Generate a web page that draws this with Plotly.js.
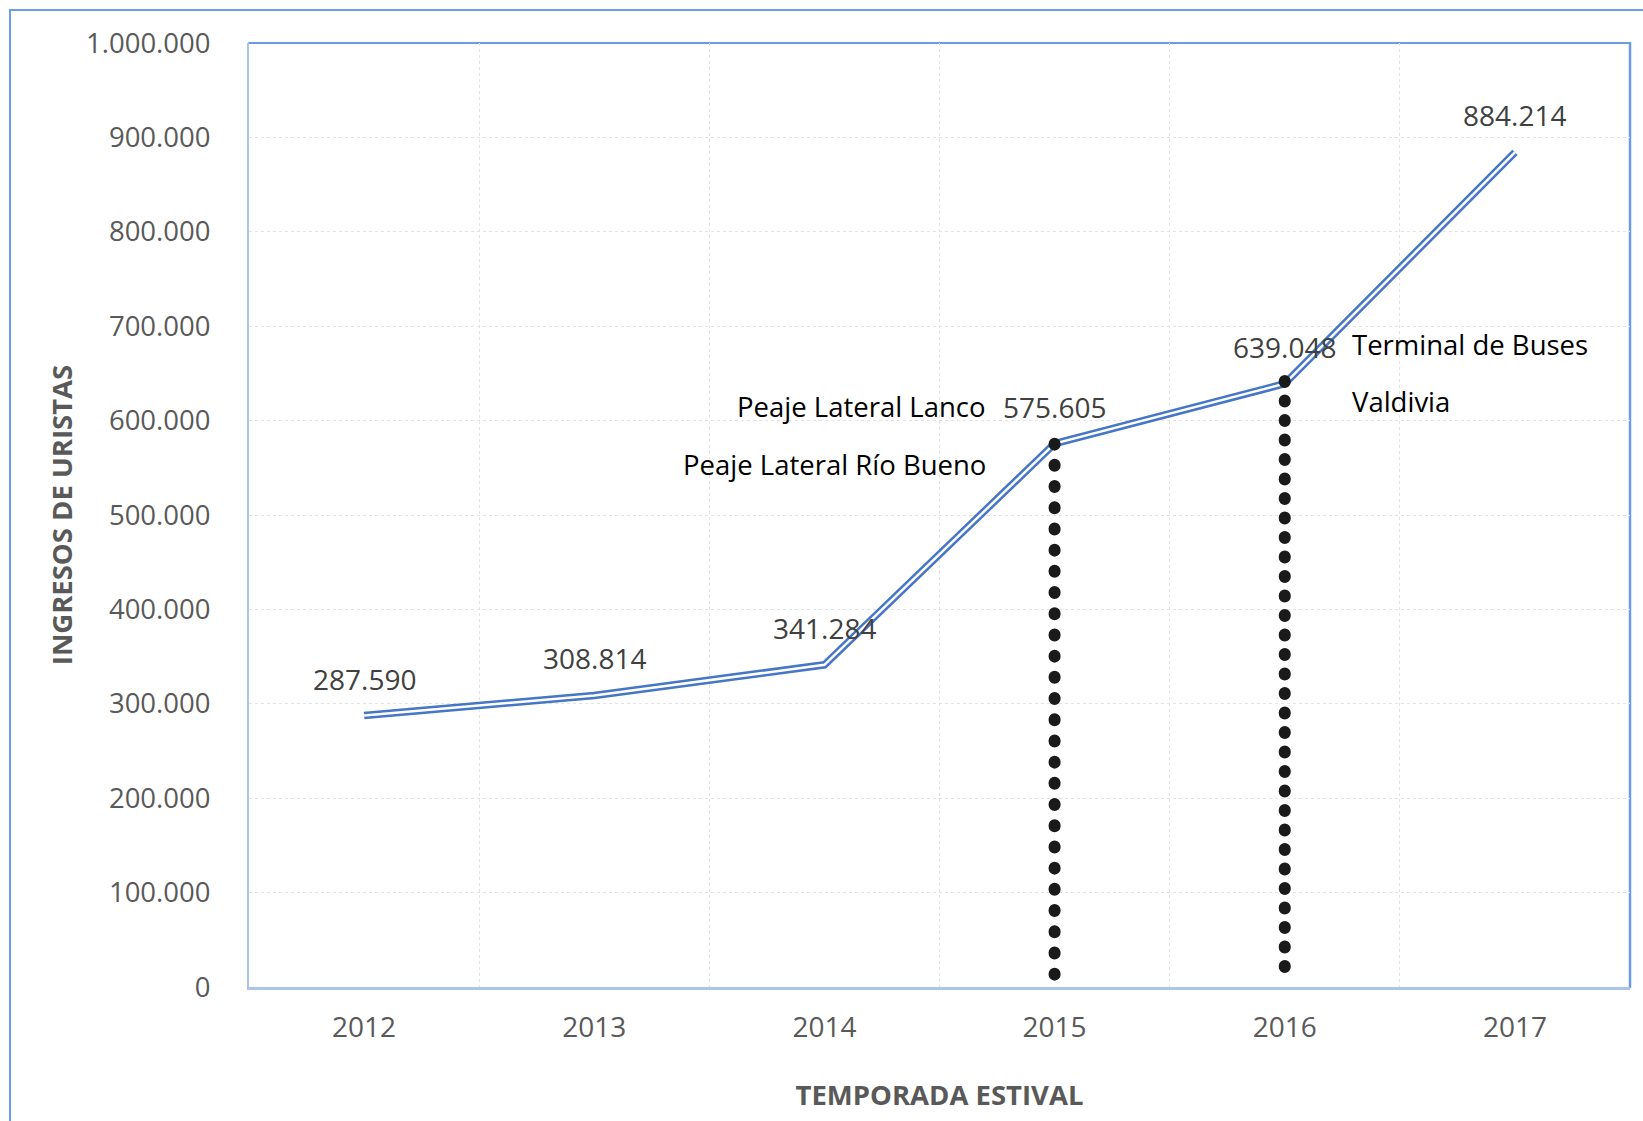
<!DOCTYPE html>
<html>
<head>
<meta charset="utf-8">
<script src="https://cdn.plot.ly/plotly-3.0.1.min.js"></script>
<style>
  html, body { margin: 0; padding: 0; background: #ffffff; }
  #wrap { position: relative; width: 1643px; height: 1121px; overflow: hidden; }
  #frame { position: absolute; left: 9px; top: 9px; width: 1700px; height: 1200px;
           border-top: 2px solid #6f9fe2; border-left: 2px solid #6f9fe2; pointer-events: none; }
  #chart { position: absolute; left: 0; top: 0; width: 1643px; height: 1121px; }
</style>
</head>
<body>
<div id="wrap">
  <div id="chart"></div>
  <div id="frame"></div>
</div>
<script>
// ---- data ----
const years = ['2012', '2013', '2014', '2015', '2016', '2017'];
const visitors = [287590, 308814, 341284, 575605, 639048, 884214];
const yTicks = [0, 100000, 200000, 300000, 400000, 500000, 600000, 700000, 800000, 900000, 1000000];
const markerYears = ['2015', '2016'];
const markerNotesLeft = ['Peaje Lateral Lanco', 'Peaje Lateral Río Bueno'];
const markerNotesRight = ['Terminal de Buses', 'Valdivia'];

const fmt = v => v.toString().replace(/\B(?=(\d{3})+(?!\d))/g, '.');

const FONT = 'Open Sans, Noto Sans, sans-serif';

const traces = [
  { x: years, y: visitors, type: 'scatter', mode: 'lines',
    line: { color: '#4676c6', width: 7.5 }, hoverinfo: 'skip', showlegend: false },
  { x: years, y: visitors, type: 'scatter', mode: 'lines',
    line: { color: '#ffffff', width: 2.5 }, hoverinfo: 'skip', showlegend: false }
];

const annotations = years.map((yr, i) => ({
  x: i, y: visitors[i], xref: 'x', yref: 'y', showarrow: false,
  text: fmt(visitors[i]), yshift: 37,
  font: { family: FONT, size: 28, color: '#404040' }
}));

const iA = years.indexOf(markerYears[0]);
const iB = years.indexOf(markerYears[1]);
const noteFont = { family: FONT, size: 27.5, color: '#000000' };
annotations.push(
  { x: iA, y: visitors[iA], xref: 'x', yref: 'y', showarrow: false,
    text: markerNotesLeft[0], xanchor: 'right', xshift: -67, yshift: 37, font: noteFont },
  { x: iA, y: visitors[iA], xref: 'x', yref: 'y', showarrow: false,
    text: markerNotesLeft[1], xanchor: 'right', xshift: -67, yshift: -21, font: noteFont },
  { x: iB, y: visitors[iB], xref: 'x', yref: 'y', showarrow: false,
    text: markerNotesRight[0], xanchor: 'left', xshift: 65, yshift: 39, font: noteFont },
  { x: iB, y: visitors[iB], xref: 'x', yref: 'y', showarrow: false,
    text: markerNotesRight[1], xanchor: 'left', xshift: 65, yshift: -18, font: noteFont }
);

const shapes = [
  { type: 'line', xref: 'x', yref: 'y', x0: iA, x1: iA,
    y0: visitors[iA], y1: 8500,
    line: { color: '#1a1a1a', width: 12, dash: '1px,20.2px' } },
  { type: 'line', xref: 'x', yref: 'y', x0: iB, x1: iB,
    y0: visitors[iB] + 3000, y1: 20000,
    line: { color: '#1a1a1a', width: 12, dash: '1px,18.5px' } },
  { type: 'line', xref: 'paper', yref: 'paper', x0: 0, x1: 1, y0: 1, y1: 1,
    line: { color: '#6b9be0', width: 2 }, layer: 'below' },
  { type: 'line', xref: 'paper', yref: 'paper', x0: 1, x1: 1, y0: 0, y1: 1,
    line: { color: '#6b9be0', width: 2.5 }, layer: 'below' }
];

const layout = {
  width: 1643, height: 1121,
  margin: { l: 249, r: 13, t: 43, b: 134, pad: 0 },
  paper_bgcolor: '#ffffff', plot_bgcolor: '#ffffff',
  separators: ',.',
  showlegend: false,
  font: { family: FONT, color: '#595959' },
  xaxis: {
    type: 'category', categoryorder: 'array', categoryarray: years,
    range: [-0.5, 5.5], fixedrange: true,
    tickson: 'boundaries', ticks: '',
    showgrid: true, gridcolor: '#e3e3e3', griddash: 'dot', gridwidth: 1,
    showline: true, linecolor: '#a9c5ec', linewidth: 2.5,
    tickfont: { family: FONT, size: 28, color: '#595959' },
    ticklabelstandoff: 14,
    title: { text: 'TEMPORADA ESTIVAL', standoff: 42,
             font: { family: FONT, size: 27.5, color: '#595959', weight: 'bold' } },
    automargin: false
  },
  yaxis: {
    range: [0, 1000000], tickvals: yTicks, tickformat: ',d', fixedrange: true,
    ticks: '', zeroline: false,
    showgrid: true, gridcolor: '#e3e3e3', griddash: 'dot', gridwidth: 1,
    showline: true, linecolor: '#a9c5ec', linewidth: 2,
    tickfont: { family: FONT, size: 27.5, color: '#595959' },
    ticklabelstandoff: 31,
    title: { text: 'INGRESOS DE URISTAS', standoff: 5,
             font: { family: FONT, size: 27.5, color: '#595959', weight: 'bold' } },
    automargin: false
  },
  shapes: shapes,
  annotations: annotations
};

Plotly.newPlot('chart', traces, layout, { staticPlot: true, displayModeBar: false })
  .then(gd => {
    gd.querySelectorAll('.shapelayer path').forEach(p => p.style.strokeLinecap = 'round');
  });
</script>
</body>
</html>
